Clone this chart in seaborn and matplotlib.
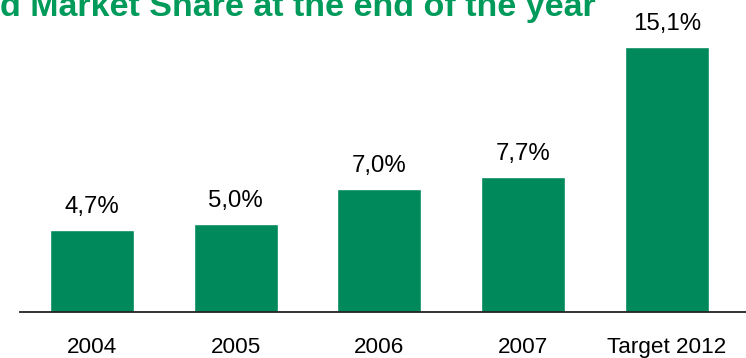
import matplotlib
matplotlib.use("Agg")
import matplotlib.pyplot as plt
import seaborn as sns
import pandas as pd

categories = ["2004", "2005", "2006", "2007", "Target 2012"]
values = [4.7, 5.0, 7.0, 7.7, 15.1]
value_labels = ["4,7%", "5,0%", "7,0%", "7,7%", "15,1%"]
title_text = "d Market Share at the end of the year"

GREEN = "#00895A"
TITLE_GREEN = "#009A5B"

sns.set_theme(style="white")
plt.rcParams["font.family"] = ["Liberation Sans", "DejaVu Sans"]

df = pd.DataFrame({"cat": categories, "val": values})

fig = plt.figure(figsize=(7.46, 3.58), dpi=100)
ax = fig.add_axes([20 / 746, 46 / 358, 726 / 746, 312 / 358])
sns.barplot(data=df, x="cat", y="val", color=GREEN, saturation=1, width=0.585, ax=ax)

ax.set_xlim(-0.5, 4.55)
ax.set_ylim(0, 17.78)
ax.set_xlabel("")
ax.set_ylabel("")
ax.set_yticks([])
ax.tick_params(axis="x", length=0, pad=18, labelsize=16.2, colors="black")
for s in ["top", "right", "left"]:
    ax.spines[s].set_visible(False)
ax.spines["bottom"].set_color("#222222")
ax.spines["bottom"].set_linewidth(1.3)

for i, (v, lab) in enumerate(zip(values, value_labels)):
    ax.annotate(lab, (i, v), xytext=(0, 12.2), textcoords="offset points",
                ha="center", va="baseline", fontsize=17.3, color="black")

fig.text(596 / 746, 1 - 16 / 358, title_text, ha="right", va="baseline",
         fontsize=24.5, fontweight="bold", color=TITLE_GREEN)

fig.savefig("out.png", dpi=100)
